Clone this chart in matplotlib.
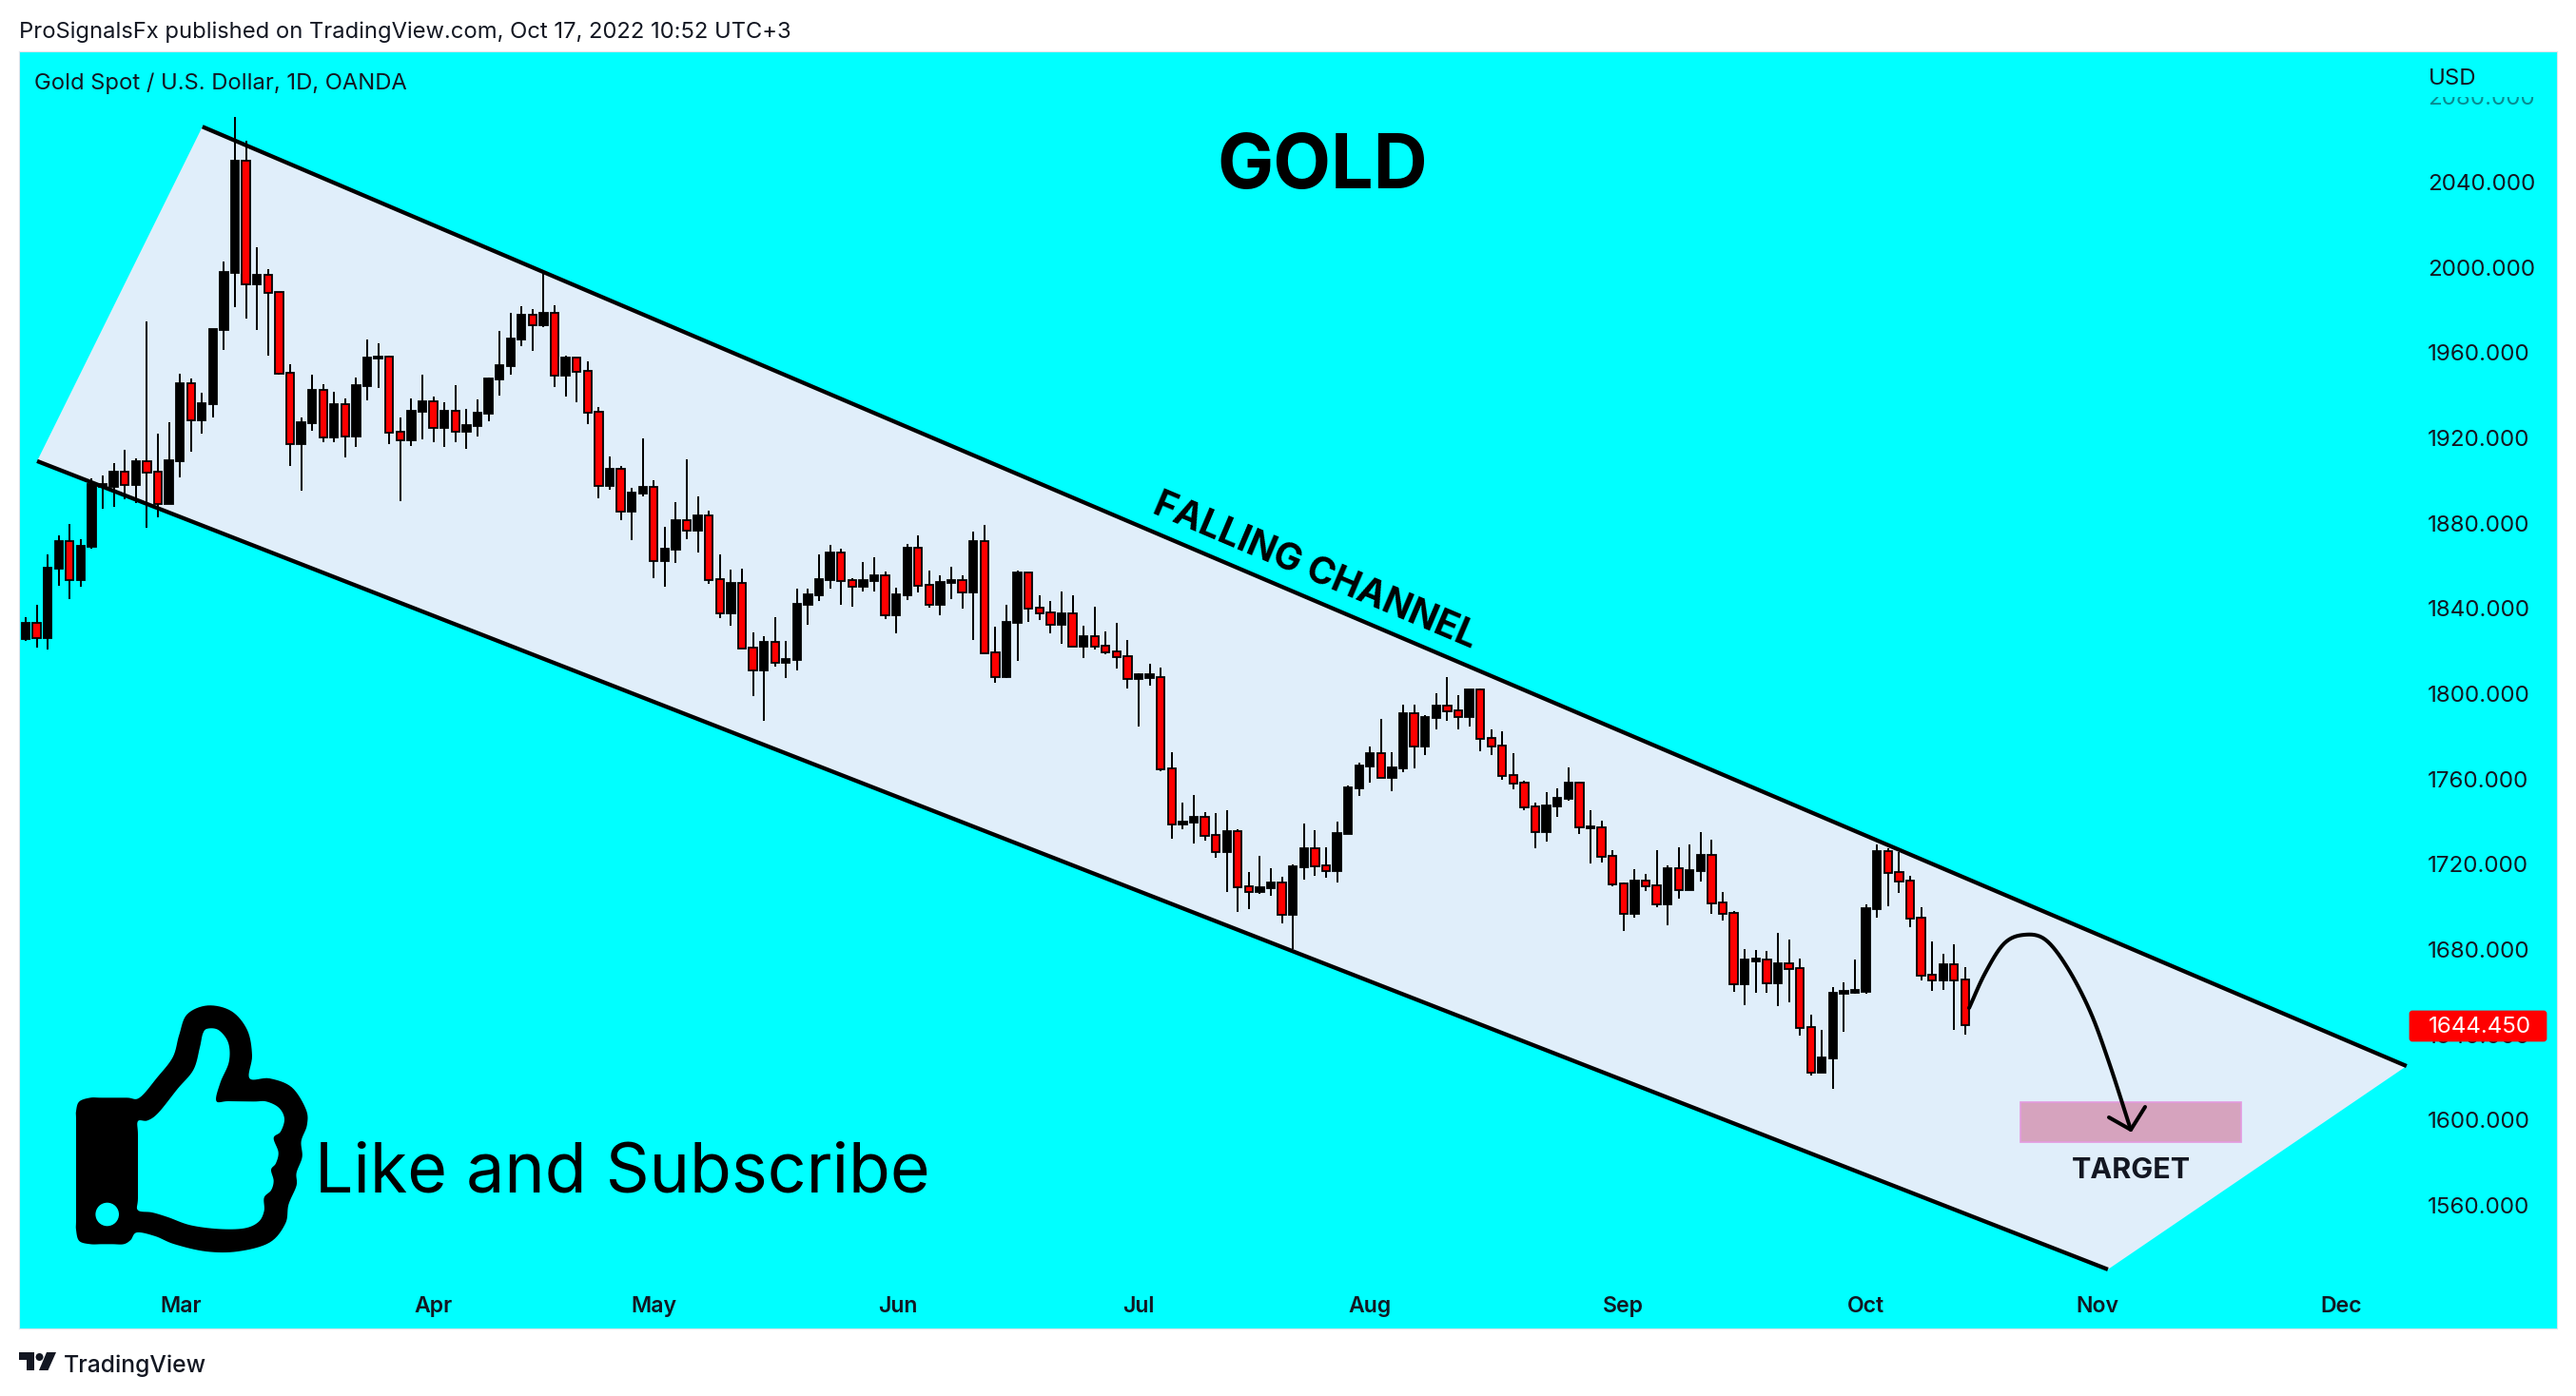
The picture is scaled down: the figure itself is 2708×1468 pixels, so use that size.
import numpy as np
import matplotlib
matplotlib.use('Agg')
import matplotlib.pyplot as plt
from matplotlib.patches import Polygon, Rectangle, Circle, FancyBboxPatch

plt.rcParams['font.family'] = ['Inter', 'DejaVu Sans']

opens = [1825.7,1833.3,1826.2,1858.7,1871.7,1853.4,1869.0,1897.3,1897.1,1904.2,
         1898.0,1909.1,1904.2,1889.1,1909.1,1945.7,1928.3,1935.9,1970.7,1997.5,
         2050.1,1992.1,1996.6,1988.6,1950.6,1917.2,1927.0,1942.6,1920.3,1935.9,
         1920.7,1944.4,1957.3,1958.2,1923.0,1919.0,1932.3,1937.3,1924.8,1932.8,
         1923.0,1925.7,1931.5,1947.6,1953.8,1966.3,1977.9,1973.0,1978.8,1949.3,
         1957.8,1951.6,1932.4,1897.6,1905.6,1885.5,1894.0,1897.1,1862.3,1867.7,
         1881.5,1876.6,1883.8,1853.9,1837.8,1852.1,1821.8,1811.0,1824.4,1814.6,
         1816.0,1841.8,1846.3,1853.4,1866.3,1853.4,1850.3,1853.0,1855.6,1836.9,
         1846.3,1868.6,1851.2,1841.8,1852.2,1853.4,1847.6,1871.7,1819.5,1807.9,
         1833.3,1857.0,1840.5,1838.2,1832.4,1837.8,1822.2,1827.1,1822.6,1819.9,
         1817.7,1807.0,1807.5,1807.9,1765.1,1738.8,1739.6,1742.3,1733.9,1725.8,
         1735.6,1709.7,1707.1,1708.9,1711.5,1696.4,1718.7,1727.6,1719.6,1716.9,
         1734.3,1755.7,1765.9,1772.2,1760.6,1765.1,1790.9,1775.3,1788.7,1794.5,
         1792.3,1789.1,1802.1,1779.3,1775.8,1761.9,1758.4,1747.2,1735.2,1747.2,
         1750.8,1758.4,1737.1,1737.4,1724.0,1711.1,1696.8,1712.5,1710.2,1701.3,
         1718.3,1708.0,1716.9,1724.5,1702.2,1697.3,1663.8,1674.7,1675.4,1664.3,
         1673.6,1671.4,1643.8,1622.3,1629.0,1659.4,1659.7,1660.3,1699.1,1726.3,
         1716.5,1712.5,1695.1,1668.3,1665.6,1673.2,1666.1]
highs = [1836.0,1841.8,1865.4,1874.3,1879.7,1872.6,1901.1,1902.5,1908.3,1914.5,
         1910.5,1974.7,1922.1,1927.4,1950.2,1947.9,1941.3,1971.2,2002.8,2070.6,
         2059.5,2009.5,1999.3,1988.6,1954.7,1929.7,1949.7,1945.3,1941.7,1938.6,
         1948.4,1966.3,1964.5,1958.7,1929.7,1938.6,1949.7,1939.5,1936.8,1944.9,
         1933.7,1938.2,1948.4,1970.3,1978.8,1981.9,1980.6,1998.9,1982.4,1958.7,
         1957.8,1956.0,1934.6,1911.4,1907.0,1896.7,1919.9,1900.3,1878.4,1890.0,
         1910.1,1892.7,1886.0,1865.5,1858.3,1858.8,1828.9,1827.1,1836.0,1824.9,
         1849.4,1849.4,1865.5,1869.9,1868.1,1854.3,1861.9,1864.1,1857.4,1849.8,
         1870.4,1874.4,1857.9,1855.6,1859.7,1855.6,1876.2,1879.3,1831.6,1841.8,
         1857.9,1857.0,1846.3,1843.6,1848.1,1846.3,1832.0,1840.9,1829.3,1833.3,
         1825.3,1809.7,1814.2,1812.4,1772.7,1749.0,1752.6,1744.6,1744.1,1745.5,
         1736.5,1716.4,1724.0,1718.2,1714.2,1720.0,1739.2,1736.1,1728.0,1740.1,
         1757.0,1767.7,1775.3,1788.3,1772.6,1794.9,1794.9,1790.0,1800.3,1807.9,
         1799.4,1802.1,1802.5,1783.3,1782.5,1772.2,1759.3,1749.0,1753.9,1755.7,
         1765.5,1758.8,1745.4,1740.5,1726.7,1711.5,1717.8,1715.6,1726.7,1719.6,
         1728.1,1729.4,1735.2,1731.6,1707.1,1698.2,1680.3,1679.9,1679.4,1687.9,
         1684.8,1675.9,1649.6,1642.4,1662.5,1664.7,1675.4,1701.3,1729.4,1727.6,
         1725.8,1714.7,1700.0,1683.9,1678.1,1682.6,1671.9]
lows = [1824.8,1821.7,1820.8,1850.7,1844.5,1850.3,1868.1,1886.8,1887.7,1891.3,
        1889.5,1877.9,1882.8,1889.1,1901.6,1913.6,1922.1,1929.7,1961.3,1981.4,
        1976.1,1970.7,1958.7,1949.7,1906.9,1895.3,1923.4,1918.1,1918.1,1910.9,
        1915.8,1937.7,1943.5,1917.2,1890.4,1916.3,1919.4,1918.1,1915.9,1918.1,
        1915.0,1920.8,1927.9,1940.0,1949.8,1963.2,1960.9,1972.1,1944.0,1939.5,
        1936.8,1926.6,1891.8,1895.8,1881.5,1872.2,1892.7,1854.3,1850.3,1861.5,
        1872.6,1866.4,1851.6,1835.6,1832.0,1821.3,1799.0,1787.4,1812.8,1807.5,
        1811.0,1832.5,1843.6,1849.4,1841.8,1840.9,1848.1,1848.1,1835.1,1828.4,
        1844.0,1847.6,1840.5,1836.9,1844.5,1840.0,1825.3,1819.1,1805.2,1807.5,
        1815.5,1833.8,1834.7,1828.4,1823.5,1822.2,1816.8,1820.8,1818.6,1811.9,
        1802.6,1784.7,1803.9,1763.7,1732.1,1736.5,1729.8,1731.2,1723.1,1707.1,
        1697.7,1699.0,1706.2,1705.3,1692.3,1680.3,1712.9,1714.6,1713.8,1711.5,
        1734.3,1752.1,1758.4,1760.6,1754.4,1763.3,1765.1,1771.3,1783.3,1787.4,
        1783.3,1784.7,1773.1,1771.3,1759.7,1755.2,1745.4,1727.6,1730.7,1742.3,
        1749.9,1734.3,1720.4,1720.9,1709.7,1688.8,1695.0,1707.6,1700.0,1691.5,
        1704.0,1708.0,1712.0,1696.8,1693.7,1660.3,1654.0,1659.8,1659.8,1653.6,
        1655.4,1639.7,1621.0,1622.3,1614.8,1641.5,1659.4,1659.4,1695.1,1700.4,
        1706.7,1690.6,1665.6,1660.7,1661.2,1642.4,1640.2]
closes = [1833.3,1826.3,1859.2,1871.7,1853.4,1869.4,1898.4,1898.4,1904.2,1898.0,
          1909.1,1903.9,1889.1,1909.6,1945.7,1928.3,1936.4,1971.2,1997.9,2050.1,
          1992.1,1996.6,1988.1,1950.2,1917.2,1927.4,1942.6,1920.3,1935.9,1920.7,
          1944.8,1957.8,1958.2,1922.5,1919.0,1932.8,1937.3,1924.8,1932.8,1923.0,
          1926.1,1931.9,1948.0,1954.2,1966.7,1977.9,1973.0,1978.8,1949.3,1957.8,
          1951.1,1931.9,1897.6,1905.6,1885.5,1894.5,1897.1,1862.3,1868.1,1881.5,
          1876.6,1883.8,1853.4,1837.8,1852.1,1821.3,1811.0,1824.4,1814.6,1816.4,
          1842.3,1846.7,1853.9,1866.3,1853.0,1850.3,1853.4,1855.6,1836.9,1846.7,
          1868.6,1850.7,1841.8,1852.5,1853.4,1847.6,1871.7,1819.1,1807.9,1833.8,
          1857.0,1840.0,1837.8,1832.4,1837.8,1822.2,1827.1,1822.2,1819.5,1817.3,
          1807.0,1809.2,1809.2,1764.6,1738.8,1740.1,1742.3,1733.4,1725.8,1735.6,
          1709.3,1707.1,1709.3,1711.5,1696.4,1719.1,1727.6,1719.1,1716.9,1734.7,
          1756.1,1766.4,1772.2,1760.6,1765.5,1790.9,1775.3,1789.1,1794.5,1791.8,
          1789.1,1802.1,1778.9,1775.3,1761.5,1757.9,1746.8,1735.2,1747.7,1751.2,
          1758.4,1737.4,1737.8,1723.6,1710.6,1696.8,1712.4,1709.8,1701.3,1718.3,
          1708.0,1717.4,1724.5,1701.7,1696.8,1663.8,1675.4,1675.7,1664.3,1673.6,
          1671.0,1643.3,1622.3,1629.5,1659.8,1660.7,1661.2,1699.5,1726.3,1716.0,
          1712.0,1694.6,1667.8,1665.6,1673.2,1665.6,1644.45]

month_names = ['Mar','Apr','May','Jun','Jul','Aug','Sep','Oct','Nov','Dec']
month_bars = [14.1,37.0,57.0,79.1,101.0,122.0,145.0,167.0,188.0,210.1]
price_ticks = list(range(1560,2081,40))

# channel anchors (bar, price)
upper_bar, upper_price = [16.04,216.05], [2066.05,1625.4]
lower_bar, lower_price = [1.04,188.95], [1909.2,1530.0]
target_bars, target_prices = [181.0,201.0], [1589.9,1608.5]
last_price = 1644.45

W,H = 2708,1468
DARK = '#131722'
CYAN = '#00ffff'

fig = plt.figure(figsize=(W/200,H/200),dpi=200,facecolor='white')

# pane, px 20..2688 x 54..1397
ax = fig.add_axes([20/W,1-1397/H,(2688-20)/W,(1397-54)/H],facecolor=CYAN)
ax.set_xlim(-0.6,229.7)
ax.set_ylim(1502.3,2101.4)
for s in ax.spines.values():
    s.set_color('#e0e3eb')
    s.set_linewidth(0.4)

o = np.array(opens); c = np.array(closes)
hi = np.array(highs); lo = np.array(lows)
x = np.arange(len(o))
down = c < o

ax.add_patch(Polygon([(lower_bar[0],lower_price[0]),(upper_bar[0],upper_price[0]),
                      (upper_bar[1],upper_price[1]),(lower_bar[1],lower_price[1])],
                     closed=True,fc='#e0eefa',ec='none',zorder=1))
ax.vlines(x,lo,hi,color='black',lw=0.72,zorder=3)
ax.bar(x,np.abs(c-o),bottom=np.minimum(o,c),width=0.72,
       color=np.where(down,'#ff0000','black'),edgecolor='black',linewidth=0.65,zorder=4)
ax.plot(upper_bar,upper_price,color='black',lw=1.55,solid_capstyle='butt',zorder=5)
ax.plot(lower_bar,lower_price,color='black',lw=1.55,solid_capstyle='butt',zorder=5)
ax.add_patch(Rectangle((target_bars[0],target_prices[0]),target_bars[1]-target_bars[0],
                       target_prices[1]-target_prices[0],fc='#d6a3be',ec='#e49adf',lw=0.6,zorder=2))

ax.set_xticks(month_bars)
ax.set_xticklabels(month_names,fontsize=8.3,fontweight='semibold',color=DARK)
ax.tick_params(axis='x',length=0,pad=-12.2)
ax.yaxis.tick_right()
ax.set_yticks(price_ticks)
ax.set_yticklabels([f'{v:.3f}' for v in price_ticks],fontsize=8.7,color=DARK)
ax.tick_params(axis='y',length=0,pad=-49)

# everything drawn on top goes in picture pixels
ov = fig.add_axes([0,0,1,1],facecolor='none')
ov.set_xlim(0,W); ov.set_ylim(H,0); ov.axis('off')

# top tick label is cut and faded in the reference
ov.add_patch(Rectangle((2540,56),146,46,fc=CYAN,ec='none'))
ov.add_patch(Rectangle((2540,102),146,10,fc=CYAN,ec='none',alpha=0.5))

def smooth(pts,n=8):
    p = np.array(pts,float)
    out = []
    m = len(p)
    for i in range(m):
        p0,p1,p2,p3 = p[(i-1)%m],p[i],p[(i+1)%m],p[(i+2)%m]
        for t in np.linspace(0,1,n,endpoint=False):
            out.append(0.5*(2*p1+(p2-p0)*t+(2*p0-5*p1+4*p2-p3)*t**2+(3*p1-p0-3*p2+p3)*t**3))
    return np.array(out)

thumb_out = [(100,385),(135,373),(170,373),(250,373),(290,373),(345,310),(395,245),(415,175),(440,110),(505,82),(580,100),(630,160),(645,240),
             (637,312),(700,312),(770,340),(815,410),(818,460),(800,510),(803,560),(785,610),(785,650),
             (760,710),(750,770),(700,830),(600,858),(500,858),(400,835),(340,810),(282,798),(262,822),(240,835),(205,835),
             (170,835),(135,835),(100,825),(90,790),(90,750),(90,600),(90,450),(90,415)]
thumb_in = [(285,447),(315,445),(350,420),(410,345),(460,285),(480,215),(490,170),(505,155),(540,160),(570,200),
            (572,260),(545,325),(532,383),(570,384),(650,385),(690,385),(730,405),(747,440),(735,480),(713,500),(728,545),(720,580),
            (705,600),(713,635),(705,665),(683,688),(683,730),(665,765),(620,785),(540,787),(450,775),(380,750),
            (330,735),(285,728),(285,690),(285,590),(285,490)]
to_px = lambda a: np.array(a)/3+np.array([50,1030])
ov.add_patch(Polygon(smooth(to_px(thumb_out)),closed=True,fc='black',ec='none'))
ov.add_patch(Polygon(smooth(to_px(thumb_in)),closed=True,fc=CYAN,ec='none'))
ov.add_patch(Circle((112.7,1277),12.3,fc=CYAN,ec='none'))

# forecast arrow
curve = [(2070,1060),(2087,1023),(2107,992),(2128,983),(2150,988),(2173,1017),(2197,1063),(2217,1117),(2240,1188)]
ext = [(2053,1097)]+curve+[(2263,1259)]
cv = smooth(ext,8)[8:8*(len(curve)-1)+9]
ov.plot(cv[:,0],cv[:,1],color='black',lw=1.45,solid_capstyle='round')
ov.plot([2217,2240,2255],[1175,1188,1164],color='black',lw=1.45,solid_capstyle='round',solid_joinstyle='round')

ov.text(20,34,'ProSignalsFx published on TradingView.com, Oct 17, 2022 10:52 UTC+3',fontsize=8.55,color=DARK,va='center')
ov.text(36,88,'Gold Spot / U.S. Dollar, 1D, OANDA',fontsize=8.55,color=DARK,va='center')
ov.text(2553,83,'USD',fontsize=8.6,color=DARK,va='center')
ov.text(1390,177,'GOLD',fontsize=28.4,fontweight='bold',color='black',ha='center',va='center')
ov.text(1382,601,'FALLING CHANNEL',fontsize=14,fontweight='bold',color='black',ha='center',va='center',rotation=-23,rotation_mode='anchor')
ov.text(331,1235,'Like and Subscribe',fontsize=25.8,color='black',va='center')
ov.text(2240,1231,'TARGET',fontsize=11,fontweight='bold',color=DARK,ha='center',va='center')

ov.add_patch(FancyBboxPatch((2534,1064),142,30,boxstyle='round,pad=0,rounding_size=2',fc='#ff0000',ec='#ff0000',lw=1))
ov.text(2553,1080,f'{last_price:.3f}',fontsize=8.7,color='white',va='center')

# TradingView logo
ov.add_patch(Polygon([(20,1422),(36,1422),(36,1441),(28,1441),(28,1430),(20,1430)],fc=DARK,ec='none'))
ov.add_patch(Circle((41.5,1427),4,fc=DARK,ec='none'))
ov.add_patch(Polygon([(49,1422),(59,1422),(50.5,1441),(41,1441)],fc=DARK,ec='none'))
ov.text(67,1436,'TradingView',fontsize=8.9,fontweight='medium',color=DARK,va='center')

assert len(opens)==len(highs)==len(lows)==len(closes)
fig.savefig('out.png',dpi=200)
